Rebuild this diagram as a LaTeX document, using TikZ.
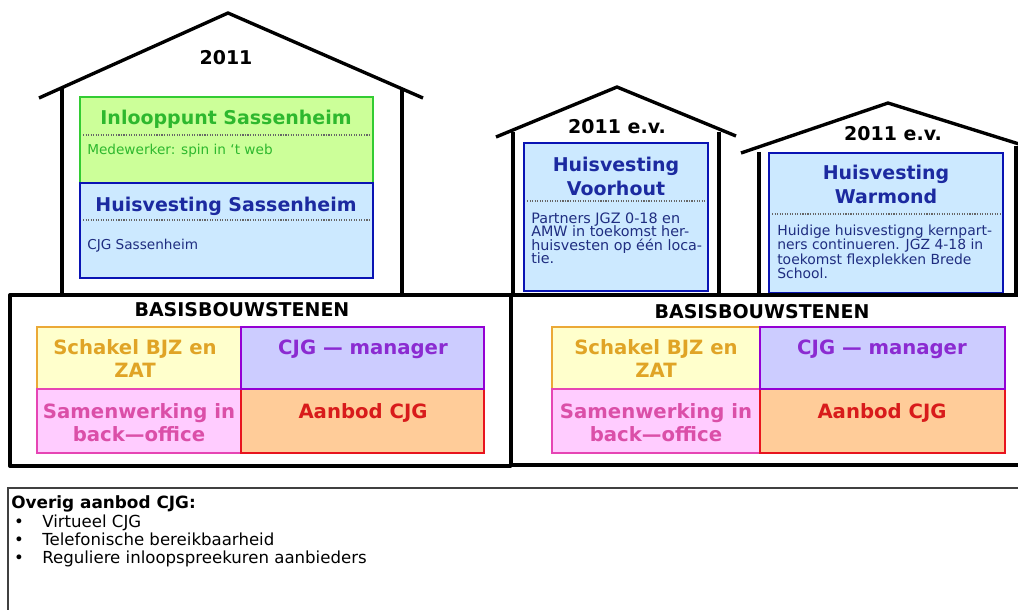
\documentclass[tikz,border=0pt]{standalone}
\usepackage{fontspec}
\setmainfont{DejaVu Sans}
\usetikzlibrary{positioning}

\definecolor{inlfill}{HTML}{CCFF99}
\definecolor{inlline}{HTML}{33CC33}
\definecolor{inltext}{HTML}{2EB82E}
\definecolor{huisfill}{HTML}{CCE9FF}
\definecolor{huisline}{HTML}{0A14B4}
\definecolor{huistitle}{HTML}{1C2AA0}
\definecolor{huistext}{HTML}{1F2D80}
\definecolor{schfill}{HTML}{FFFFCC}
\definecolor{schline}{HTML}{EBA937}
\definecolor{schtext}{HTML}{E0A426}
\definecolor{manfill}{HTML}{CCCCFF}
\definecolor{manline}{HTML}{9400D3}
\definecolor{mantext}{HTML}{8B2BD1}
\definecolor{samfill}{HTML}{FFCCFF}
\definecolor{samline}{HTML}{E645B4}
\definecolor{samtext}{HTML}{DB4FA8}
\definecolor{aanfill}{HTML}{FFCC99}
\definecolor{aanline}{HTML}{E8141E}
\definecolor{aantext}{HTML}{D81B1B}

\newcommand\tightlines{\lineskiplimit=-5pt\relax}

\begin{document}
\begin{tikzpicture}
	[x=0.25mm, y=-0.25mm,
	every node/.style={inner sep=0pt},
	house/.style = {line width=2.4pt, line join=round},
	block/.style = {line width=2.1pt},
	sep/.style = {densely dotted, gray!80!black, line width=0.8pt},
	title/.style = {font=\fontsize{13.5}{17}\selectfont\bfseries, anchor=base},
	title2/.style = {font=\fontsize{13.5}{17}\selectfont\bfseries, align=center, anchor=north},
	label/.style = {font=\fontsize{14}{16.3}\selectfont\bfseries, align=center},
	body/.style = {font=\fontsize{9.7}{10}\selectfont, align=left},
	item/.style = {font=\fontsize{11.8}{13}\selectfont, anchor=base west}
	]
	\useasboundingbox (0,0) rectangle (1018,609);

	% huis 1: Sassenheim
	\draw[house] (39,98) -- (228,13) -- (423,98);
	\draw[house] (62,88) -- (62,295);
	\draw[house] (402,88) -- (402,295);
	\node[title] (year1) at (226,64) {2011};
	\draw[block, draw=inlline, fill=inlfill] (80,97) rectangle (373,183);
	\draw[block, draw=huisline, fill=huisfill] (80,183) rectangle (373,278);
	\draw[sep] (83,135) -- (370,135);
	\draw[sep] (83,220) -- (370,220);
	\node[title, text=inltext] (inloop) at (226,124) {Inlooppunt Sassenheim};
	\node[body, anchor=base west, text=inltext] (spin) at (87,154) {Medewerker: spin in `t web};
	\node[title, text=huistitle] (huis1) at (226,211) {Huisvesting Sassenheim};
	\node[body, anchor=base west, text=huistext] (cjg1) at (87,249) {CJG Sassenheim};

	% huis 2: Voorhout
	\draw[house] (496,137) -- (617,87) -- (736,136);
	\draw[house] (513,132) -- (513,295);
	\draw[house] (719,132) -- (719,295);
	\node[title] (year2) at (617,133) {2011 e.v.};
	\draw[block, draw=huisline, fill=huisfill] (524,143) rectangle (708,291);
	\draw[sep] (527,201) -- (705,201);
	\node[title2, text=huistitle] (huis2) at (616,157) {Huisvesting\\Voorhout};
	\node[body, font=\fontsize{10.2}{9.6}\selectfont\tightlines, anchor=north west, text=huistext] (tekst2) at (531,212.5)
		{Partners JGZ 0-18 en\\AMW in toekomst her-\\huisvesten op één loca-\\tie.};

	% huis 3: Warmond
	\draw[house] (741,153) -- (888,103) -- (1035,149);
	\draw[house] (759,152) -- (759,295);
	\draw[house] (1016,146) -- (1016,295);
	\node[title] (year3) at (893,140) {2011 e.v.};
	\draw[block, draw=huisline, fill=huisfill] (769,153) rectangle (1003,293);
	\draw[sep] (772,214) -- (1000,214);
	\node[title2, text=huistitle] (huis3) at (886,165) {Huisvesting\\Warmond};
	\node[body, font=\fontsize{9.9}{10.2}\selectfont\tightlines, anchor=north west, text=huistext] (tekst3) at (777,224.6)
		{Huidige huisvestigng kernpart-\\ners continueren. JGZ 4-18 in\\toekomst flexplekken Brede\\School.};

	% basisbouwstenen
	\draw[house] (10,295) rectangle (511,466);
	\draw[house] (511,295) rectangle (1040,465);
	\node[title] (basis1) at (242,316) {BASISBOUWSTENEN};
	\node[title] (basis2) at (762,318) {BASISBOUWSTENEN};

	\draw[block, draw=schline, fill=schfill] (37,327) rectangle (241,389);
	\draw[block, draw=samline, fill=samfill] (37,389) rectangle (241,453);
	\draw[block, draw=aanline, fill=aanfill] (241,389) rectangle (484,453);
	\draw[block, draw=manline, fill=manfill] (241,327) rectangle (484,389);
	\node[label, anchor=north, text=schtext] (schakel1) at (135,339) {Schakel BJZ en\\ZAT};
	\node[label, anchor=base, text=mantext] (manager1) at (363,354) {CJG — manager};
	\node[label, anchor=north, text=samtext] (samen1) at (139,403) {Samenwerking in\\back—office};
	\node[label, anchor=base, text=aantext] (aanbod1) at (363,418) {Aanbod CJG};

	\draw[block, draw=schline, fill=schfill] (552,327) rectangle (760,389);
	\draw[block, draw=samline, fill=samfill] (552,389) rectangle (760,453);
	\draw[block, draw=aanline, fill=aanfill] (760,389) rectangle (1005,453);
	\draw[block, draw=manline, fill=manfill] (760,327) rectangle (1005,389);
	\node[label, anchor=north, text=schtext] (schakel2) at (656,339) {Schakel BJZ en\\ZAT};
	\node[label, anchor=base, text=mantext] (manager2) at (882,354) {CJG — manager};
	\node[label, anchor=north, text=samtext] (samen2) at (656,403) {Samenwerking in\\back—office};
	\node[label, anchor=base, text=aantext] (aanbod2) at (882,418) {Aanbod CJG};

	% overig aanbod
	\draw[line width=1.3pt, draw=black!75] (8,488) rectangle (1040,650);
	\node[anchor=base west, font=\fontsize{12}{14}\selectfont\bfseries] (overig) at (11,508) {Overig aanbod CJG:};
	\foreach \t [count=\i] in {Virtueel CJG, Telefonische bereikbaarheid, Reguliere inloopspreekuren aanbieders}
	{
		\node[item, anchor=base] (bullet\i) at (19,{509+18.2*\i}) {\textbullet};
		\node[item] (item\i) at (42,{509+18.2*\i}) {\t};
	}
\end{tikzpicture}
\end{document}
